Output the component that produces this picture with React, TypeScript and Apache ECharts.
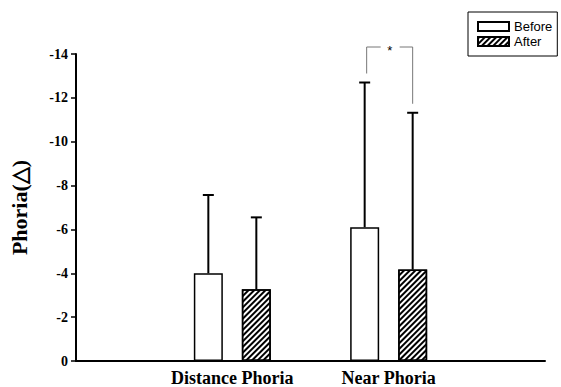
import React, { useEffect, useRef } from "react";
import * as echarts from "echarts";

const categories = ["", "Distance Phoria", "Near Phoria", ""];
const seriesNames = ["Before", "After"];
const beforeMeans = [null, -4.0, -6.1, null];
const afterMeans = [null, -3.27, -4.17, null];
const beforeErrTop = [null, -7.57, -12.7, null];
const afterErrTop = [null, -6.55, -11.32, null];
const yMin = -14;
const yMax = 0;
const yInterval = 2;
const sigCategoryIndex = 2;
const sigLabel = "*";

const BAR_W = 29;
const BAR_GAP = 19;
const OFFSET = (BAR_W + BAR_GAP) / 2;

function errData(means: (number | null)[], tops: (number | null)[]) {
  const out: number[][] = [];
  means.forEach((m, i) => {
    if (m !== null && tops[i] !== null) out.push([i, m as number, tops[i] as number]);
  });
  return out;
}

function makeErrRender(offset: number) {
  return (params: any, api: any) => {
    const idx = api.value(0);
    const base = api.coord([idx, api.value(1)]);
    const top = api.coord([idx, api.value(2)]);
    const x = base[0] + offset;
    return {
      type: "group",
      children: [
        { type: "line", shape: { x1: x, y1: base[1], x2: x, y2: top[1] }, style: { stroke: "#000", lineWidth: 2 } },
        { type: "line", shape: { x1: x - 5.5, y1: top[1], x2: x + 5.5, y2: top[1] }, style: { stroke: "#000", lineWidth: 2 } },
      ],
    };
  };
}

export default function App() {
  const ref = useRef<HTMLDivElement>(null);
  useEffect(() => {
    if (!ref.current) return;
    const chart = echarts.init(ref.current, null, { renderer: "svg" });
    const hatch = {
      symbol: "rect",
      symbolSize: 1,
      color: "#000",
      backgroundColor: "#fff",
      dashArrayX: [1, 0],
      dashArrayY: [1.4, 1.8],
      rotation: -Math.PI / 4,
    };
    chart.setOption({
      animation: false,
      backgroundColor: "#fff",
      grid: { left: 72, right: 16, top: 54, bottom: 25, containLabel: false },
      legend: {
        data: seriesNames,
        orient: "vertical",
        left: 468,
        top: 12,
        padding: [8, 5, 8, 9],
        itemWidth: 31,
        itemHeight: 9,
        itemGap: 2,
        borderColor: "#000",
        borderWidth: 1,
        icon: "rect",
        textStyle: { fontFamily: "Liberation Sans", fontSize: 13, color: "#000" },
      },
      xAxis: {
        type: "category",
        data: categories,
        boundaryGap: false,
        axisLine: { lineStyle: { color: "#000", width: 2 } },
        axisTick: { show: false },
        axisLabel: {
          interval: 0,
          margin: 8,
          fontFamily: "Liberation Serif",
          fontWeight: "bold",
          fontSize: 18,
          color: "#000",
        },
      },
      yAxis: {
        type: "value",
        inverse: true,
        min: yMin,
        max: yMax,
        interval: yInterval,
        name: "Phoria(△)",
        nameLocation: "middle",
        nameGap: 46,
        nameTextStyle: { fontFamily: "Liberation Serif", fontWeight: "bold", fontSize: 22, color: "#000" },
        axisLine: { show: true, lineStyle: { color: "#000", width: 2 } },
        axisTick: { show: true, length: 5, lineStyle: { color: "#000", width: 1.5 } },
        splitLine: { show: false },
        axisLabel: { margin: 8, fontFamily: "Liberation Serif", fontWeight: "bold", fontSize: 14, color: "#000" },
      },
      series: [
        {
          name: "Before",
          type: "bar",
          data: beforeMeans,
          barWidth: BAR_W,
          barGap: (BAR_GAP / BAR_W) * 100 + "%",
          itemStyle: { color: "#fff", borderColor: "#000", borderWidth: 1.5 },
        },
        {
          name: "After",
          type: "bar",
          data: afterMeans,
          barWidth: BAR_W,
          itemStyle: { color: "#fff", borderColor: "#000", borderWidth: 1.5, decal: hatch },
        },
        {
          type: "custom",
          data: errData(beforeMeans, beforeErrTop),
          renderItem: makeErrRender(-OFFSET),
          z: 5,
        },
        {
          type: "custom",
          data: errData(afterMeans, afterErrTop),
          renderItem: makeErrRender(OFFSET),
          z: 5,
        },
        {
          type: "custom",
          clip: false,
          data: [[sigCategoryIndex, beforeErrTop[sigCategoryIndex] as number, afterErrTop[sigCategoryIndex] as number]],
          renderItem: (params: any, api: any) => {
            const idx = api.value(0);
            const lb = api.coord([idx, api.value(1)]);
            const rb = api.coord([idx, api.value(2)]);
            const topY = api.coord([idx, yMin])[1] - 7;
            const xl = lb[0] - OFFSET + 2;
            const xr = lb[0] + OFFSET;
            const xm = (xl + xr) / 2;
            const st = { stroke: "#777", lineWidth: 1, fill: null };
            return {
              type: "group",
              children: [
                { type: "polyline", shape: { points: [[xl, lb[1] - 9], [xl, topY], [xm - 9, topY]] }, style: st },
                { type: "polyline", shape: { points: [[xm + 10, topY], [xr, topY], [xr, rb[1] - 9]] }, style: st },
                {
                  type: "text",
                  x: xm,
                  y: topY + 3,
                  style: { text: sigLabel, fill: "#000", fontSize: 13, fontFamily: "Liberation Sans", align: "center", verticalAlign: "middle" },
                },
              ],
            };
          },
        },
      ],
    });
    return () => chart.dispose();
  }, []);
  return <div ref={ref} style={{ position: "fixed", left: 0, top: 0, width: 561, height: 387 }} />;
}
